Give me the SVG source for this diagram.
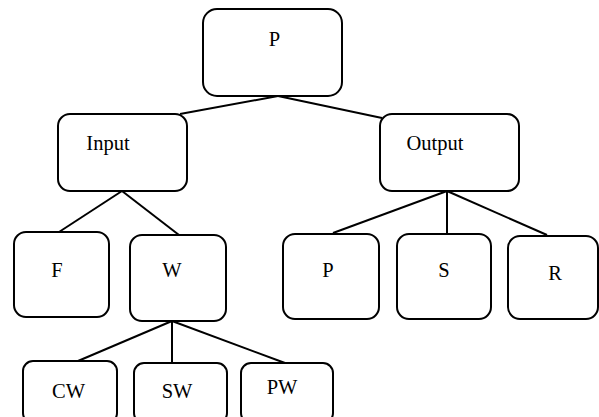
<svg xmlns="http://www.w3.org/2000/svg" width="599" height="417" viewBox="0 0 599 417">
<style>
.box{fill:#fff;stroke:#000;stroke-width:2}
.lbl{font-family:Liberation Serif, serif;font-size:20.5px;fill:#000;text-anchor:middle}
.con line{stroke:#000;stroke-width:2}
</style>
<rect width="599" height="417" fill="#fff"/>
<g class="con" id="connectors">
<line x1="278" y1="96" x2="180" y2="114"/>
<line x1="278" y1="96" x2="382" y2="118"/>
<line x1="122" y1="191" x2="59" y2="232"/>
<line x1="122" y1="191" x2="179" y2="235"/>
<line x1="447" y1="191" x2="333" y2="233"/>
<line x1="447" y1="191" x2="447" y2="234"/>
<line x1="447" y1="191" x2="547" y2="235"/>
<line x1="172" y1="321" x2="78" y2="361"/>
<line x1="172" y1="321" x2="172" y2="363"/>
<line x1="172" y1="321" x2="285" y2="363"/>
</g>
<g id="n-P"><rect class="box" x="203" y="9" width="139" height="87" rx="14"/><text class="lbl" font-family="Liberation Serif" x="274.5" y="46">P</text></g>
<g id="n-Input"><rect class="box" x="58" y="114" width="129" height="77" rx="12"/><text class="lbl" font-family="Liberation Serif" x="108" y="150">Input</text></g>
<g id="n-Output"><rect class="box" x="380" y="114" width="139" height="77" rx="12"/><text class="lbl" font-family="Liberation Serif" x="435" y="150">Output</text></g>
<g id="n-F"><rect class="box" x="14" y="232" width="95" height="85" rx="12"/><text class="lbl" font-family="Liberation Serif" x="57" y="277">F</text></g>
<g id="n-W"><rect class="box" x="130" y="235" width="96" height="86" rx="12"/><text class="lbl" font-family="Liberation Serif" x="172" y="277">W</text></g>
<g id="n-P2"><rect class="box" x="283" y="234" width="96" height="85" rx="12"/><text class="lbl" font-family="Liberation Serif" x="328" y="277">P</text></g>
<g id="n-S"><rect class="box" x="397" y="234" width="94" height="85" rx="12"/><text class="lbl" font-family="Liberation Serif" x="444" y="277">S</text></g>
<g id="n-R"><rect class="box" x="508" y="236" width="90" height="83" rx="12"/><text class="lbl" font-family="Liberation Serif" x="555" y="280">R</text></g>
<g id="n-CW"><rect class="box" x="23" y="361" width="94" height="62" rx="10"/><text class="lbl" font-family="Liberation Serif" x="68.5" y="398">CW</text></g>
<g id="n-SW"><rect class="box" x="134" y="363" width="93" height="60" rx="10"/><text class="lbl" font-family="Liberation Serif" x="177" y="398">SW</text></g>
<g id="n-PW"><rect class="box" x="241" y="363" width="92" height="60" rx="10"/><text class="lbl" font-family="Liberation Serif" x="282" y="394">PW</text></g>
</svg>
